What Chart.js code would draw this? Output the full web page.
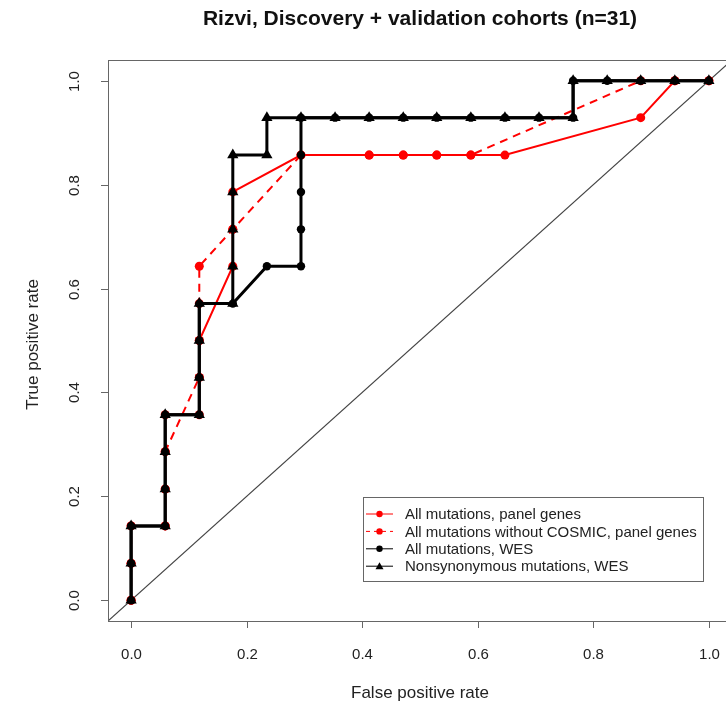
<!DOCTYPE html>
<html><head><meta charset="utf-8">
<script src="https://cdn.jsdelivr.net/npm/chart.js@4"></script>
<style>html,body{margin:0;padding:0;background:#fff;overflow:hidden;}canvas{display:block;}</style>
</head><body><canvas id="c" width="750" height="707"></canvas>
<script>
const titleText = "Rizvi, Discovery + validation cohorts (n=31)";
const xLabel = "False positive rate";
const yLabel = "True positive rate";
const tickValues = [0, 0.2, 0.4, 0.6, 0.8, 1.0];
const tickLabels = ["0.0", "0.2", "0.4", "0.6", "0.8", "1.0"];
const seriesLabels = ["All mutations, panel genes", "All mutations without COSMIC, panel genes", "All mutations, WES", "Nonsynonymous mutations, WES"];

const panelAllFpr = [0,0,0,0.059,0.059,0.059,0.059,0.118,0.118,0.118,0.176,0.176,0.176,0.294,0.412,0.471,0.529,0.588,0.647,0.882,0.941,1];
const panelAllTpr = [0,0.071,0.143,0.143,0.214,0.286,0.357,0.357,0.429,0.5,0.643,0.714,0.786,0.857,0.857,0.857,0.857,0.857,0.857,0.929,1,1];

const panelNoCosmicFpr = [0,0,0,0.059,0.059,0.059,0.118,0.118,0.118,0.118,0.176,0.294,0.412,0.471,0.529,0.588,0.882,0.941,1];
const panelNoCosmicTpr = [0,0.071,0.143,0.143,0.214,0.286,0.429,0.5,0.571,0.643,0.714,0.857,0.857,0.857,0.857,0.857,1,1,1];

const wesAllFpr = [0,0,0,0.059,0.059,0.059,0.059,0.118,0.118,0.118,0.118,0.176,0.235,0.294,0.294,0.294,0.294,0.294,0.353,0.412,0.471,0.529,0.588,0.647,0.706,0.765,0.765,0.824,0.882,0.941,1];
const wesAllTpr = [0,0.071,0.143,0.143,0.214,0.286,0.357,0.357,0.429,0.5,0.571,0.571,0.643,0.643,0.714,0.786,0.857,0.929,0.929,0.929,0.929,0.929,0.929,0.929,0.929,0.929,1,1,1,1,1];

const wesNonsynFpr = [0,0,0,0.059,0.059,0.059,0.059,0.118,0.118,0.118,0.118,0.176,0.176,0.176,0.176,0.176,0.235,0.235,0.294,0.353,0.412,0.471,0.529,0.588,0.647,0.706,0.765,0.765,0.824,0.882,0.941,1];
const wesNonsynTpr = [0,0.071,0.143,0.143,0.214,0.286,0.357,0.357,0.429,0.5,0.571,0.571,0.643,0.714,0.786,0.857,0.857,0.929,0.929,0.929,0.929,0.929,0.929,0.929,0.929,0.929,0.929,1,1,1,1,1];

const refLine = [-0.04, 1.04];

const zip = (xs, ys) => xs.map((x, i) => ({x: x, y: ys[i]}));
const FONT = '"Liberation Sans", Arial, Helvetica, sans-serif';

const styles = [
  {color: '#ff0000', lw: 2, dash: [], pt: 'circle', r: 4.5},
  {color: '#ff0000', lw: 2, dash: [8, 6], pt: 'circle', r: 4.5},
  {color: '#000000', lw: 3, dash: [], pt: 'circle', r: 4.2},
  {color: '#000000', lw: 3, dash: [], pt: 'triangle', r: 6.5}
];
const seriesData = [zip(panelAllFpr, panelAllTpr), zip(panelNoCosmicFpr, panelNoCosmicTpr), zip(wesAllFpr, wesAllTpr), zip(wesNonsynFpr, wesNonsynTpr)];
const datasets = seriesData.map((d, i) => ({
  label: seriesLabels[i], data: d, showLine: true, borderColor: styles[i].color, backgroundColor: styles[i].color,
  borderWidth: styles[i].lw, borderDash: styles[i].dash, pointStyle: styles[i].pt, pointRadius: styles[i].r,
  pointBorderWidth: 0, pointHoverRadius: styles[i].r, order: 4 - i, tension: 0
}));
datasets.push({label: 'diag', data: zip(refLine, refLine), showLine: true, borderColor: '#444', borderWidth: 1.2, pointRadius: 0, order: 10});

const frame = {
  id: 'frame',
  afterDraw(chart) {
    const ctx = chart.ctx, a = chart.chartArea, xs = chart.scales.x, ys = chart.scales.y;
    ctx.save();
    ctx.strokeStyle = '#666'; ctx.lineWidth = 1; ctx.setLineDash([]);
    ctx.strokeRect(Math.round(a.left) + 0.5, Math.round(a.top) + 0.5, Math.round(a.right - a.left), Math.round(a.bottom - a.top));
    ctx.fillStyle = '#222'; ctx.font = '15px ' + FONT;
    tickValues.forEach((v, i) => {
      const px = Math.round(xs.getPixelForValue(v)) + 0.5;
      ctx.beginPath(); ctx.moveTo(px, a.bottom); ctx.lineTo(px, a.bottom + 7); ctx.stroke();
      ctx.textAlign = 'center'; ctx.textBaseline = 'middle';
      ctx.fillText(tickLabels[i], px, 655);
      const py = Math.round(ys.getPixelForValue(v)) + 0.5;
      ctx.beginPath(); ctx.moveTo(a.left, py); ctx.lineTo(a.left - 7, py); ctx.stroke();
      ctx.save(); ctx.translate(75, py); ctx.rotate(-Math.PI / 2);
      ctx.fillText(tickLabels[i], 0, 0); ctx.restore();
    });
    const cx = (a.left + a.right) / 2, cy = (a.top + a.bottom) / 2;
    ctx.font = '17px ' + FONT;
    ctx.fillText(xLabel, cx, 693);
    ctx.save(); ctx.translate(33, cy + 4); ctx.rotate(-Math.PI / 2); ctx.fillText(yLabel, 0, 0); ctx.restore();
    ctx.font = 'bold 21px ' + FONT; ctx.fillStyle = '#111';
    ctx.fillText(titleText, cx, 19);
    // legend
    ctx.font = '15px ' + FONT;
    let maxW = 0; seriesLabels.forEach(t => { maxW = Math.max(maxW, ctx.measureText(t).width); });
    const lx = 363, ly = 497, rowH = 17.4, tx = 405;
    const bw = tx + maxW + 6 - lx, bh = 84;
    ctx.fillStyle = '#fff'; ctx.fillRect(lx, ly, bw, bh);
    ctx.strokeStyle = '#666'; ctx.lineWidth = 1;
    ctx.strokeRect(lx + 0.5, ly + 0.5, Math.round(bw), bh);
    seriesLabels.forEach((t, i) => {
      const y = ly + 17 + i * rowH, s = styles[i];
      ctx.strokeStyle = s.color; ctx.fillStyle = s.color; ctx.lineWidth = 1;
      ctx.setLineDash(s.dash.length ? [4, 4] : []);
      ctx.beginPath(); ctx.moveTo(366, y); ctx.lineTo(393, y); ctx.stroke();
      ctx.setLineDash([]);
      ctx.beginPath();
      if (s.pt === 'triangle') { ctx.moveTo(379.5, y - 4); ctx.lineTo(383.5, y + 3); ctx.lineTo(375.5, y + 3); ctx.closePath(); }
      else { ctx.arc(379.5, y, 3.2, 0, Math.PI * 2); }
      ctx.fill();
      ctx.fillStyle = '#222'; ctx.textAlign = 'left'; ctx.textBaseline = 'middle';
      ctx.fillText(t, tx, y + 1);
    });
    ctx.restore();
  }
};

new Chart(document.getElementById('c'), {
  type: 'scatter',
  data: {datasets: datasets},
  options: {
    responsive: false, animation: false, devicePixelRatio: 1,
    layout: {padding: {top: 60, right: 18, left: 0, bottom: 0}},
    plugins: {legend: {display: false}, title: {display: false}, tooltip: {enabled: false}},
    scales: {
      x: {type: 'linear', min: -0.04, max: 1.04, grid: {display: false}, border: {display: false}, ticks: {display: false},
          afterFit(s) { s.height = 86; }},
      y: {type: 'linear', min: -0.04, max: 1.04, grid: {display: false}, border: {display: false}, ticks: {display: false},
          afterFit(s) { s.width = 108; }}
    }
  },
  plugins: [frame]
});
</script></body></html>
